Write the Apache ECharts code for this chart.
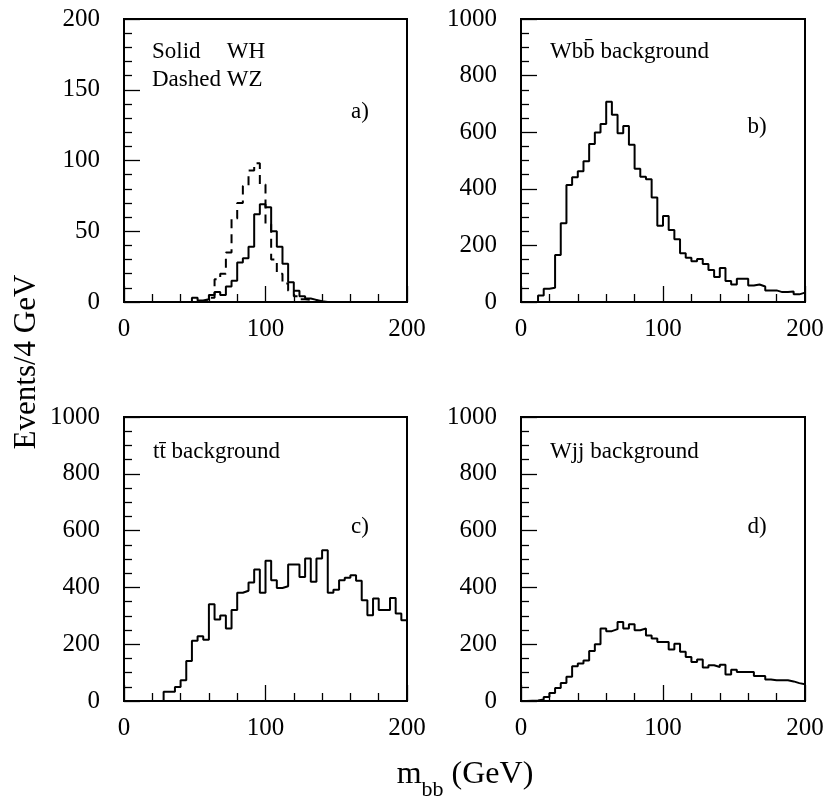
<!DOCTYPE html>
<html><head><meta charset="utf-8">
<script src="https://cdn.jsdelivr.net/npm/echarts@6/dist/echarts.min.js"></script>
<style>html,body{margin:0;padding:0;background:#fff}#c{width:829px;height:805px}</style>
</head><body><div id="c"></div>
<script>
// ---- data: 50 bins of 4 GeV from 0 to 200 ----
const BIN_WIDTH = 4;
const X_TICKS = [0, 100, 200];
const Y_TICKS_A = [0, 50, 100, 150, 200];
const Y_TICKS_BCD = [0, 200, 400, 600, 800, 1000];

const whValues = [0,0,0,0,0,0,0,0,0,0, 0,0,3,1,2,5,7,5,11,15, 28,31,39,62,69,67,50,39,27,14, 8,4,2.5,1.5,0.5,0,0,0,0,0, 0,0,0,0,0,0,0,0,0,0];
const wzValues = [0,0,0,0,0,0,0,0,0,0, 0,0,0,0,1,3,16,20,35,59, 70,82,93,98,83,55,30,20,13,8, 4,2,1.5,1,0,0,0,0,0,0, 0,0,0,0,0,0,0,0,0,0];
const wbbValues = [0,0,0,23,47,50,166,278,413,441, 462,497,558,599,629,708,662,596,622,556, 471,443,434,369,269,304,254,222,172,156, 144,152,134,113,88,120,74,62,82,82, 58,62,55,41,41,35,35,37,27,33];
const ttValues = [0,0,0,0,0,0,0,33,33,49, 73,141,212,228,216,341,287,301,255,320, 381,388,417,463,381,494,425,398,404,481, 481,437,502,420,502,531,381,392,425,434, 443,423,355,302,361,320,320,363,308,284];
const wjjValues = [0,1,2,5,14,28,46,63,85,122, 132,143,176,200,255,246,253,278,255,270, 249,255,231,220,208,208,181,202,173,155, 137,146,118,126,120,128,93,110,102,102, 102,88,88,76,73,73,73,69,63,59];

const FONT = '"Liberation Serif", "Times New Roman", serif';

function stepData(vals) {
  const d = vals.map((v, i) => [i * BIN_WIDTH, v]);
  d.push([vals.length * BIN_WIDTH, vals[vals.length - 1]]);
  return d;
}

const grids = [
  {left: 124, top: 19, width: 283, height: 283},
  {left: 521, top: 19, width: 284, height: 283},
  {left: 124, top: 417, width: 283, height: 284},
  {left: 521, top: 417, width: 284, height: 284}
];

const yTicksList = [Y_TICKS_A, Y_TICKS_BCD, Y_TICKS_BCD, Y_TICKS_BCD];
const yMinorSplit = [5, 4, 4, 4];

const tickStyle = {color: '#000', width: 1.3};
const plainNum = v => String(v);

const xAxes = grids.map((g, i) => ({
  type: 'value', gridIndex: i,
  min: X_TICKS[0], max: X_TICKS[X_TICKS.length - 1], interval: X_TICKS[1] - X_TICKS[0],
  axisLine: {show: true, lineStyle: {color: '#000', width: 2}},
  axisTick: {show: true, inside: true, length: 16, lineStyle: tickStyle},
  minorTick: {show: true, splitNumber: 5, length: 8, lineStyle: tickStyle},
  splitLine: {show: false}, minorSplitLine: {show: false},
  axisLabel: {color: '#000', fontFamily: FONT, fontSize: 25, margin: 15, formatter: plainNum}
}));

const yAxes = grids.map((g, i) => {
  const t = yTicksList[i];
  return {
    type: 'value', gridIndex: i,
    min: t[0], max: t[t.length - 1], interval: t[1] - t[0],
    axisLine: {show: true, lineStyle: {color: '#000', width: 2}},
    axisTick: {show: true, inside: true, length: 16, lineStyle: tickStyle},
    minorTick: {show: true, splitNumber: yMinorSplit[i], length: 8, lineStyle: tickStyle},
    splitLine: {show: false}, minorSplitLine: {show: false},
    axisLabel: {color: '#000', fontFamily: FONT, fontSize: 25, margin: 24, formatter: plainNum}
  };
});

function histSeries(vals, idx, dashed) {
  return {
    type: 'line', xAxisIndex: idx, yAxisIndex: idx, step: 'end',
    data: stepData(vals), showSymbol: false, symbol: 'none', animation: false,
    lineStyle: {color: '#000', width: 2, type: dashed ? [9, 6] : 'solid'},
    clip: true
  };
}

const ctx = document.createElement('canvas').getContext('2d');
function tw(text, size) { ctx.font = size + 'px ' + FONT; return ctx.measureText(text).width; }

function txt(text, x, y, size, align) {
  return {type: 'text', x: x, y: y, silent: true,
    style: {text: text, font: size + 'px ' + FONT, fill: '#000', textAlign: align || 'left', textVerticalAlign: 'middle'}};
}

const PANEL_FS = 23;
const wzX = 152 + tw('Dashed ', PANEL_FS);
const MFS = 32, SFS = 22;
const mTotal = tw('m', MFS) + tw('bb', SFS) + tw(' (GeV)', MFS);
const mStart = 465 - mTotal / 2;

const graphics = [
  txt('Solid', 152, 52, PANEL_FS),
  txt('WH', wzX, 52, PANEL_FS),
  txt('Dashed WZ', 152, 80, PANEL_FS),
  txt('a)', 360, 112, PANEL_FS, 'center'),
  txt('Wbb\u0304 background', 550, 52, PANEL_FS),
  txt('b)', 757, 127, PANEL_FS, 'center'),
  txt('tt\u0304 background', 153, 452, PANEL_FS),
  txt('c)', 360, 527, PANEL_FS, 'center'),
  txt('Wjj background', 550, 452, PANEL_FS),
  txt('d)', 757, 527, PANEL_FS, 'center'),
  {type: 'text', x: 27, y: 362, rotation: Math.PI / 2, silent: true,
    style: {text: 'Events/4 GeV', font: '31px ' + FONT, fill: '#000', textAlign: 'center', textVerticalAlign: 'middle'}},
  txt('m', mStart, 775, MFS),
  txt('bb', mStart + tw('m', MFS), 790, SFS),
  txt(' (GeV)', mStart + tw('m', MFS) + tw('bb', SFS), 775, MFS)
];

const chart = echarts.init(document.getElementById('c'), null, {renderer: 'canvas'});
chart.setOption({
  animation: false,
  backgroundColor: '#fff',
  grid: grids.map(g => Object.assign({show: true, borderColor: '#000', borderWidth: 2, backgroundColor: 'transparent'}, g)),
  xAxis: xAxes,
  yAxis: yAxes,
  series: [
    histSeries(whValues, 0, false),
    histSeries(wzValues, 0, true),
    histSeries(wbbValues, 1, false),
    histSeries(ttValues, 2, false),
    histSeries(wjjValues, 3, false)
  ],
  graphic: graphics
});
</script>
</body></html>
